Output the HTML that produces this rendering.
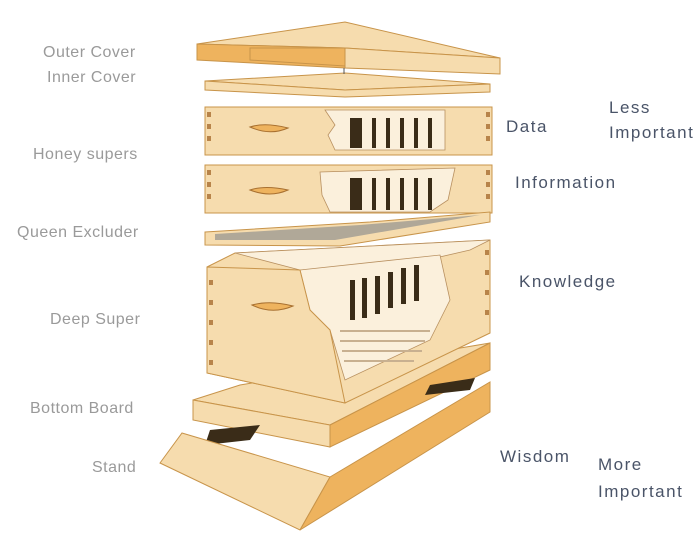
<!DOCTYPE html>
<html><head><meta charset="utf-8"><style>
html,body{margin:0;padding:0;background:#fff;width:699px;height:547px;overflow:hidden}
svg{display:block}
text{font-family:"Liberation Sans",sans-serif}
.l{fill:#9a9a9a;font-size:16px;letter-spacing:0.5px}
.r{fill:#4a5468;font-size:17px;letter-spacing:1.5px}
.w{fill:#f6dcae;stroke:#c8944a;stroke-width:1}
.o{fill:#eeb35e;stroke:#c8944a;stroke-width:1}
.d{fill:#3a2c18}
.f{fill:#fbf0dc;stroke:#b89060;stroke-width:0.8}
</style></head><body>
<svg width="699" height="547" viewBox="0 0 699 547">
<g>
<polygon class="w" points="197,44 345,22 500,58 345,48"/>
<polygon class="o" points="197,44 345,48 345,68 197,60"/>
<polygon class="w" points="345,48 500,58 500,74 345,68"/>
<polygon class="o" points="250,48 345,48 345,66 250,60"/>
</g>
<g>
<polygon class="w" points="205,81 345,73 490,84 345,90"/>
<polygon class="w" points="205,81 345,90 490,84 490,92 345,97 205,90"/>
<line x1="344" y1="68" x2="344" y2="74" stroke="#555"/>
</g>
<g>
<rect class="w" x="205" y="107" width="287" height="48"/>
<polygon class="f" points="325,110 445,110 445,150 335,150 328,135 335,125"/>
<g class="d"><rect x="350" y="118" width="12" height="30"/><rect x="372" y="118" width="4" height="30"/><rect x="386" y="118" width="4" height="30"/><rect x="400" y="118" width="4" height="30"/><rect x="414" y="118" width="4" height="30"/><rect x="428" y="118" width="4" height="30"/></g>
<path d="M250,127 Q265,122 288,128 Q270,136 250,127Z" fill="#eeb35e" stroke="#a87030"/>
<g fill="#b8844a"><rect x="207" y="112" width="4" height="5"/><rect x="207" y="124" width="4" height="5"/><rect x="207" y="136" width="4" height="5"/><rect x="486" y="112" width="4" height="5"/><rect x="486" y="124" width="4" height="5"/><rect x="486" y="136" width="4" height="5"/></g>
</g>
<g>
<rect class="w" x="205" y="165" width="287" height="48"/>
<polygon class="f" points="320,172 455,168 448,200 430,212 330,212 322,195"/>
<g class="d"><rect x="350" y="178" width="12" height="32"/><rect x="372" y="178" width="4" height="32"/><rect x="386" y="178" width="4" height="32"/><rect x="400" y="178" width="4" height="32"/><rect x="414" y="178" width="4" height="32"/><rect x="428" y="178" width="4" height="32"/></g>
<path d="M250,190 Q265,185 288,190 Q270,198 250,190Z" fill="#eeb35e" stroke="#a87030"/>
<g fill="#b8844a"><rect x="207" y="170" width="4" height="5"/><rect x="207" y="182" width="4" height="5"/><rect x="207" y="194" width="4" height="5"/><rect x="486" y="170" width="4" height="5"/><rect x="486" y="182" width="4" height="5"/><rect x="486" y="194" width="4" height="5"/></g>
</g>
<g>
<polygon class="w" points="205,232 370,222 490,212 490,222 340,246 205,245"/>
<polygon fill="#b0a898" points="215,234 360,225 480,215 335,240 215,240"/>
</g>
<g>
<polygon class="w" points="193,400 240,385 490,343 330,425"/>
<polygon class="w" points="193,400 330,425 330,447 193,420"/>
<polygon class="o" points="330,425 490,343 490,370 330,447"/>
</g>
<g>
<polygon class="w" points="207,267 235,253 490,240 490,333 345,403 207,373"/>
<polygon class="f" points="235,253 490,240 470,250 340,280 300,270"/>
<polygon class="f" points="300,270 440,255 450,300 430,340 345,380 330,330 310,310"/>
<g fill="#c8b090"><rect x="340" y="330" width="90" height="2"/><rect x="340" y="340" width="85" height="2"/><rect x="342" y="350" width="80" height="2"/><rect x="344" y="360" width="70" height="2"/></g>
<g class="d"><rect x="350" y="280" width="5" height="40"/><rect x="362" y="278" width="5" height="40"/><rect x="375" y="276" width="5" height="38"/><rect x="388" y="272" width="5" height="36"/><rect x="401" y="268" width="5" height="36"/><rect x="414" y="265" width="5" height="36"/></g>
<polygon style="fill:#f6dcae;stroke:#c8944a" points="207,267 300,270 310,310 330,330 345,403 207,373"/>
<path d="M252,305 Q270,300 293,306 Q272,315 252,305Z" fill="#eeb35e" stroke="#a87030"/>
<g fill="#b8844a"><rect x="209" y="280" width="4" height="5"/><rect x="209" y="300" width="4" height="5"/><rect x="209" y="320" width="4" height="5"/><rect x="209" y="340" width="4" height="5"/><rect x="209" y="360" width="4" height="5"/><rect x="485" y="250" width="4" height="5"/><rect x="485" y="270" width="4" height="5"/><rect x="485" y="290" width="4" height="5"/><rect x="485" y="310" width="4" height="5"/></g>
</g>
<g>
<polygon class="d" points="210,430 260,425 250,440 205,445"/>
<polygon class="d" points="430,385 475,378 470,390 425,395"/>
<polygon class="w" points="182,433 330,477 300,530 160,463"/>
<polygon class="o" points="330,477 490,382 490,412 300,530"/>
</g>
<g>
<text class="l" x="43" y="57">Outer Cover</text>
<text class="l" x="47" y="82">Inner Cover</text>
<text class="l" x="33" y="159">Honey supers</text>
<text class="l" x="17" y="237">Queen Excluder</text>
<text class="l" x="50" y="324">Deep Super</text>
<text class="l" x="30" y="413">Bottom Board</text>
<text class="l" x="92" y="472">Stand</text>
</g>
<g>
<text class="r" x="506" y="132">Data</text>
<text class="r" x="515" y="188">Information</text>
<text class="r" x="519" y="287">Knowledge</text>
<text class="r" x="500" y="462">Wisdom</text>
<text class="r" x="609" y="113">Less</text>
<text class="r" x="609" y="138">Important</text>
<text class="r" x="598" y="470">More</text>
<text class="r" x="598" y="497">Important</text>
</g>
</svg>
</body></html>
